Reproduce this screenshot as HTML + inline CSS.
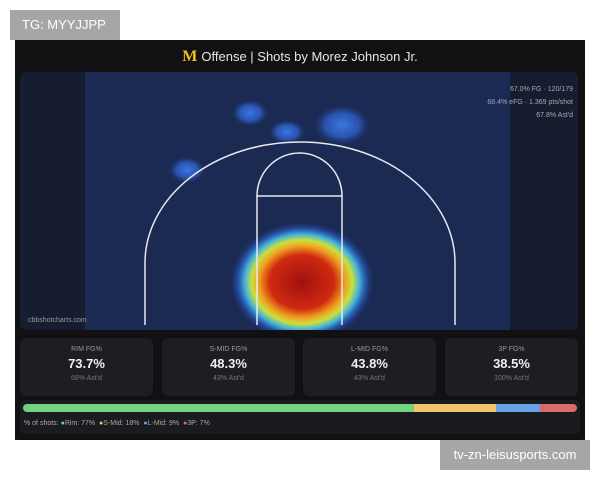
<!DOCTYPE html>
<html><head><style>
body{margin:0;width:600px;height:480px;background:#fff;position:relative;font-family:"Liberation Sans",sans-serif;overflow:hidden}
.tg{position:absolute;left:10px;top:10px;width:110px;height:30px;background:#a6a6a6;color:#fff;font-size:13px;line-height:30px;padding-left:12px;box-sizing:border-box}
.wm{position:absolute;left:440px;top:440px;width:150px;height:30px;background:#a6a6a6;color:#fff;font-size:13px;line-height:30px;text-align:center}
.panel{position:absolute;left:15px;top:40px;width:570px;height:400px;background:#111114}
.title{position:absolute;top:8px;left:0;width:570px;text-align:center;color:#e6e6e6;font-size:13px}
.title b{color:#f2c11b;font-family:"Liberation Serif",serif;font-size:16px;margin-right:4px}
.court{position:absolute;left:5px;top:32px;width:558px;height:258px;background:#161d31;border-radius:6px;overflow:hidden}
.card{position:absolute;top:298px;width:133px;height:58px;background:#1d1e23;border-radius:6px;text-align:center;color:#ddd}
.card .a{font-size:7px;color:#999;margin-top:8px}
.card .b{font-size:13px;font-weight:bold;color:#f0f0f0;margin-top:3px}
.card .c{font-size:7px;color:#777;margin-top:4px}
.barbox{position:absolute;left:5px;top:360px;width:560px;height:34px;background:#1a1b1f;border-radius:5px}
.bar{position:absolute;left:3px;top:4px;width:554px;height:8px;border-radius:4px;overflow:hidden;display:flex}
.leg{position:absolute;left:4px;top:20px;font-size:7px;color:#aaa}
</style></head><body>
<div class="tg">TG: MYYJJPP</div>
<div class="panel">
<div class="title"><b>M</b>Offense | Shots by Morez Johnson Jr.</div>
<div class="court">
<svg width="558" height="258" viewBox="20 72 558 258">
<defs>
<radialGradient id="h" cx="50%" cy="50%" r="50%">
<stop offset="0" stop-color="#a01010"/><stop offset="0.45" stop-color="#d02a10"/><stop offset="0.6" stop-color="#f0a020"/><stop offset="0.7" stop-color="#c8e040"/><stop offset="0.8" stop-color="#40b0e0"/><stop offset="0.9" stop-color="#2a60c8" stop-opacity="0.6"/><stop offset="1" stop-color="#1e3a90" stop-opacity="0"/></radialGradient>
<radialGradient id="bl"><stop offset="0" stop-color="#3a78e0"/><stop offset="0.6" stop-color="#2f5fc8" stop-opacity="0.8"/><stop offset="1" stop-color="#24408a" stop-opacity="0"/></radialGradient>
</defs>
<rect x="85" y="72" width="425" height="258" fill="#1a2a52"/>
<ellipse cx="250" cy="113" rx="18" ry="13" fill="url(#bl)"/>
<ellipse cx="287" cy="132" rx="18" ry="12" fill="url(#bl)"/>
<ellipse cx="342" cy="125" rx="28" ry="20" fill="url(#bl)"/>
<ellipse cx="187" cy="170" rx="18" ry="13" fill="url(#bl)"/>
<ellipse cx="302" cy="282" rx="72" ry="60" fill="url(#h)"/>
<g stroke="#e8e8f0" stroke-width="1.5" fill="none">
<path d="M145 325 V263 A155 121 0 0 1 455 263 V325"/>
<path d="M257 325 V196 H342 V325"/>
<path d="M257 196 A42.5 43 0 0 1 342 196"/>
</g>
<text x="573" y="91" fill="#aaa" font-size="7" text-anchor="end" font-family="Liberation Sans">67.0% FG · 120/179</text>
<text x="573" y="104" fill="#aaa" font-size="7" text-anchor="end" font-family="Liberation Sans">68.4% eFG · 1.369 pts/shot</text>
<text x="573" y="117" fill="#aaa" font-size="7" text-anchor="end" font-family="Liberation Sans">67.8% Ast'd</text>
<text x="28" y="322" fill="#999" font-size="7" font-family="Liberation Sans">cbbshotcharts.com</text>
</svg>
</div>
<div class="card" style="left:5px"><div class="a">RIM FG%</div><div class="b">73.7%</div><div class="c">68% Ast'd</div></div>
<div class="card" style="left:147px"><div class="a">S-MID FG%</div><div class="b">48.3%</div><div class="c">43% Ast'd</div></div>
<div class="card" style="left:288px"><div class="a">L-MID FG%</div><div class="b">43.8%</div><div class="c">43% Ast'd</div></div>
<div class="card" style="left:430px"><div class="a">3P FG%</div><div class="b">38.5%</div><div class="c">100% Ast'd</div></div>
<div class="barbox">
<div class="bar"><div style="width:70.5%;background:#74d37e"></div><div style="width:14.8%;background:#f2c56a"></div><div style="width:8%;background:#6aa0e8"></div><div style="flex:1;background:#d96b6b"></div></div>
<div class="leg">% of shots: <span style="color:#74d37e">●</span>Rim: 77% &nbsp;<span style="color:#f2c56a">●</span>S-Mid: 18% &nbsp;<span style="color:#6aa0e8">●</span>L-Mid: 9% &nbsp;<span style="color:#d96b6b">●</span>3P: 7%</div>
</div>
</div>
<div class="wm">tv-zn-leisusports.com</div>
</body></html>
